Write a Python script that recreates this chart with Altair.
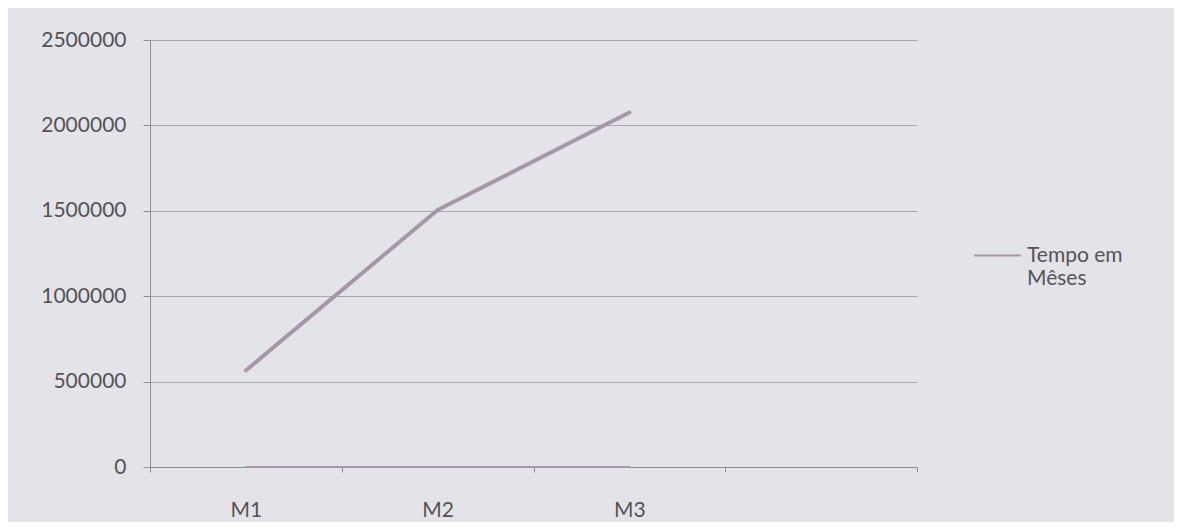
import altair as alt
import pandas as pd

categorias = ["M1", "M2", "M3"]
valores = [565000, 1505000, 2075000]
tempo_em_meses = [1, 2, 3]
eixo_x = ["M1", "M2", "M3", "M4"]
y_ticks = [0, 500000, 1000000, 1500000, 2000000, 2500000]

rows = []
for c, v in zip(categorias, valores):
    rows.append({"mes": c, "valor": v, "serie": "Valor"})
for c, v in zip(categorias, tempo_em_meses):
    rows.append({"mes": c, "valor": v, "serie": "Tempo em Mêses"})
df = pd.DataFrame(rows)

line_color = "#a797a6"
font = "Lato"

chart = alt.Chart(df).mark_line(strokeCap="round", strokeJoin="round").encode(
    x=alt.X("mes:N",
            scale=alt.Scale(type="band", domain=eixo_x, paddingInner=0, paddingOuter=0),
            axis=alt.Axis(title=None, labelAngle=0, tickBand="extent", grid=False,
                          labelExpr="datum.value == 'M4' ? '' : datum.label",
                          tickSize=5, labelPadding=27, domainColor="#8f8b93",
                          tickColor="#8f8b93")),
    y=alt.Y("valor:Q",
            scale=alt.Scale(domain=[0, 2500000], nice=False),
            axis=alt.Axis(title=None, values=y_ticks, format="d", tickSize=7,
                          labelPadding=17, gridColor="#aba5ad", domainColor="#8f8b93",
                          tickColor="#8f8b93")),
    color=alt.Color("serie:N",
                    scale=alt.Scale(domain=["Tempo em Mêses", "Valor"],
                                    range=[line_color, line_color]),
                    legend=alt.Legend(title=None, values=["Tempo em Mêses"], orient="none",
                                      legendX=823, legendY=191, symbolType="stroke",
                                      symbolSize=2209, symbolStrokeWidth=3,
                                      labelExpr="['Tempo em', 'Mêses']",
                                      labelFontSize=21, labelFont=font, labelColor="#555358",
                                      labelOffset=5, labelLimit=300)),
    strokeWidth=alt.StrokeWidth("serie:N",
                                scale=alt.Scale(domain=["Tempo em Mêses", "Valor"], range=[2, 4]),
                                legend=None),
    detail="serie:N",
).properties(
    width=767, height=427,
    autosize=alt.AutoSizeParams(type="none"),
    padding={"left": 142, "top": 32, "right": 257, "bottom": 55},
    background="#e4e3ea",
).configure_view(
    stroke=None, fill="#e4e3ea"
).configure_axis(
    labelFont=font, labelFontSize=21, labelColor="#555358", gridWidth=1
)

chart.save("out.html", embed_options={"renderer": "svg", "actions": False})
